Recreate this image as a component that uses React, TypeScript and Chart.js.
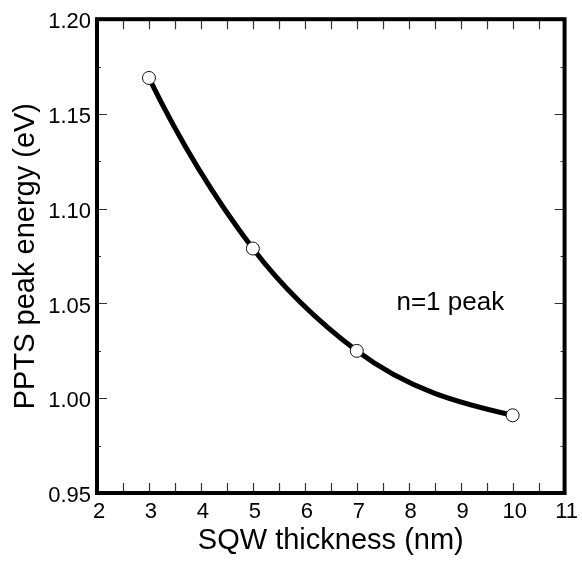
import React, { useEffect, useRef } from "react";
import { Chart, registerables } from "chart.js";

Chart.register(...registerables);

// ---- data ----
const thicknessNm = [3, 5, 7, 10];
const peakEnergyEv = [1.169, 1.079, 1.025, 0.991];

const xTickValues = [2, 3, 4, 5, 6, 7, 8, 9, 10, 11];
const xMinorTickValues = [2.5, 3.5, 4.5, 5.5, 6.5, 7.5, 8.5, 9.5, 10.5];
const yTickValues = [0.95, 1.0, 1.05, 1.1, 1.15, 1.2];
const yMinorTickValues = [0.975, 1.025, 1.075, 1.125, 1.175];

const xAxisTitle = "SQW thickness (nm)";
const yAxisTitle = "PPTS peak energy (eV)";
const annotationText = "n=1 peak";
const annotationX = 8.8;
const annotationY = 1.0465;

const FONT = '"Liberation Sans", Arial, Helvetica, sans-serif';

// Smooth curve control points (Hermite tangents from neighbouring points),
// applied to Chart.js's own line element before it draws.
const smoothCurvePlugin = {
  id: "smoothCurve",
  beforeDatasetDraw(chart: any, args: any) {
    const meta = args.meta;
    const pts = meta.data;
    const n = pts.length;
    if (n < 3) return;
    const h: number[] = [];
    const d: number[] = [];
    for (let i = 0; i < n - 1; i++) {
      h.push(pts[i + 1].x - pts[i].x);
      d.push((pts[i + 1].y - pts[i].y) / h[i]);
    }
    const m: number[] = new Array(n).fill(0);
    for (let i = 1; i < n - 1; i++) {
      m[i] = (d[i - 1] * h[i] + d[i] * h[i - 1]) / (h[i - 1] + h[i]);
    }
    m[0] = m[1] !== 0 && Math.sign(m[1]) === Math.sign(d[0]) ? (d[0] * d[0]) / m[1] : d[0];
    m[n - 1] =
      m[n - 2] !== 0 && Math.sign(m[n - 2]) === Math.sign(d[n - 2])
        ? (d[n - 2] * d[n - 2]) / m[n - 2]
        : d[n - 2];
    for (let i = 0; i < n; i++) {
      const p = pts[i];
      const hp = i > 0 ? h[i - 1] : 0;
      const hn = i < n - 1 ? h[i] : 0;
      p.cp1x = p.x - hp / 3;
      p.cp1y = p.y - (m[i] * hp) / 3;
      p.cp2x = p.x + hn / 3;
      p.cp2y = p.y + (m[i] * hn) / 3;
    }
    if (meta.dataset) {
      meta.dataset._pointsUpdated = true;
      meta.dataset._path = undefined;
    }
  },
};

const framePlugin = {
  id: "frameTicks",
  afterDraw(chart: any) {
    const { ctx, chartArea: a, scales } = chart;
    const xs = scales.x;
    const ys = scales.y;
    ctx.save();
    ctx.strokeStyle = "#333";
    ctx.lineWidth = 1.2;
    ctx.beginPath();
    for (const v of [...xTickValues, ...xMinorTickValues]) {
      const px = Math.round(xs.getPixelForValue(v)) + 0.5;
      if (px <= a.left + 3 || px >= a.right - 3) continue;
      ctx.moveTo(px, a.bottom);
      ctx.lineTo(px, a.bottom - 10);
      ctx.moveTo(px, a.top);
      ctx.lineTo(px, a.top + 10);
    }
    for (const v of yTickValues) {
      const py = Math.round(ys.getPixelForValue(v)) + 0.5;
      if (py <= a.top + 3 || py >= a.bottom - 3) continue;
      ctx.moveTo(a.left, py);
      ctx.lineTo(a.left + 10, py);
      ctx.moveTo(a.right, py);
      ctx.lineTo(a.right - 10, py);
    }
    for (const v of yMinorTickValues) {
      const py = Math.round(ys.getPixelForValue(v)) + 0.5;
      ctx.moveTo(a.left, py);
      ctx.lineTo(a.left + 4, py);
      ctx.moveTo(a.right, py);
      ctx.lineTo(a.right - 4, py);
    }
    ctx.stroke();

    ctx.lineWidth = 4;
    ctx.strokeStyle = "#000";
    ctx.strokeRect(a.left, a.top, a.right - a.left, a.bottom - a.top);

    ctx.font = `26px ${FONT}`;
    ctx.fillStyle = "#000";
    ctx.textAlign = "center";
    ctx.textBaseline = "alphabetic";
    ctx.fillText(
      annotationText,
      xs.getPixelForValue(annotationX),
      ys.getPixelForValue(annotationY)
    );
    ctx.restore();
  },
};

export default function App() {
  const canvasRef = useRef<HTMLCanvasElement | null>(null);

  useEffect(() => {
    if (!canvasRef.current) return;
    const chart = new Chart(canvasRef.current, {
      type: "line",
      data: {
        datasets: [
          {
            data: thicknessNm.map((x, i) => ({ x, y: peakEnergyEv[i] })),
            borderColor: "#000",
            borderWidth: 5,
            tension: 0.4,
            pointRadius: 6.5,
            pointBorderWidth: 1,
            pointBorderColor: "#111",
            pointBackgroundColor: "#fff",
            fill: false,
            clip: false as any,
          },
        ],
      },
      options: {
        animation: false,
        responsive: true,
        maintainAspectRatio: false,
        layout: { padding: { top: 19, right: 15, left: 0, bottom: 0 } },
        plugins: {
          legend: { display: false },
          tooltip: { enabled: false },
        },
        scales: {
          x: {
            type: "linear",
            min: 2,
            max: 11,
            grid: { display: false, drawTicks: false },
            border: { display: false },
            afterBuildTicks: (s: any) => {
              s.ticks = xTickValues.map((v) => ({ value: v }));
            },
            afterFit: (s: any) => {
              s.height = 73;
            },
            ticks: {
              padding: 6,
              labelOffset: 2,
              color: "#000",
              font: { family: FONT, size: 22 },
              maxRotation: 0,
              autoSkip: false,
              callback: (v: any) => String(v),
            },
            title: {
              display: true,
              text: xAxisTitle,
              color: "#000",
              font: { family: FONT, size: 29 },
              padding: { top: 0, bottom: 8 },
            },
          },
          y: {
            type: "linear",
            min: 0.95,
            max: 1.2,
            grid: { display: false, drawTicks: false },
            border: { display: false },
            afterBuildTicks: (s: any) => {
              s.ticks = yTickValues.map((v) => ({ value: v }));
            },
            afterFit: (s: any) => {
              s.width = 97;
            },
            ticks: {
              padding: 6,
              labelOffset: 3,
              color: "#000",
              font: { family: FONT, size: 22 },
              autoSkip: false,
              callback: (v: any) => Number(v).toFixed(2),
            },
            title: {
              display: true,
              text: yAxisTitle,
              color: "#000",
              font: { family: FONT, size: 29 },
              padding: { top: 9, bottom: 0 },
            },
          },
        },
      },
      plugins: [smoothCurvePlugin, framePlugin],
    });
    return () => chart.destroy();
  }, []);

  return (
    <div
      style={{
        position: "fixed",
        left: 0,
        top: 0,
        width: 582,
        height: 566,
        background: "#fff",
      }}
    >
      <canvas ref={canvasRef} />
    </div>
  );
}
